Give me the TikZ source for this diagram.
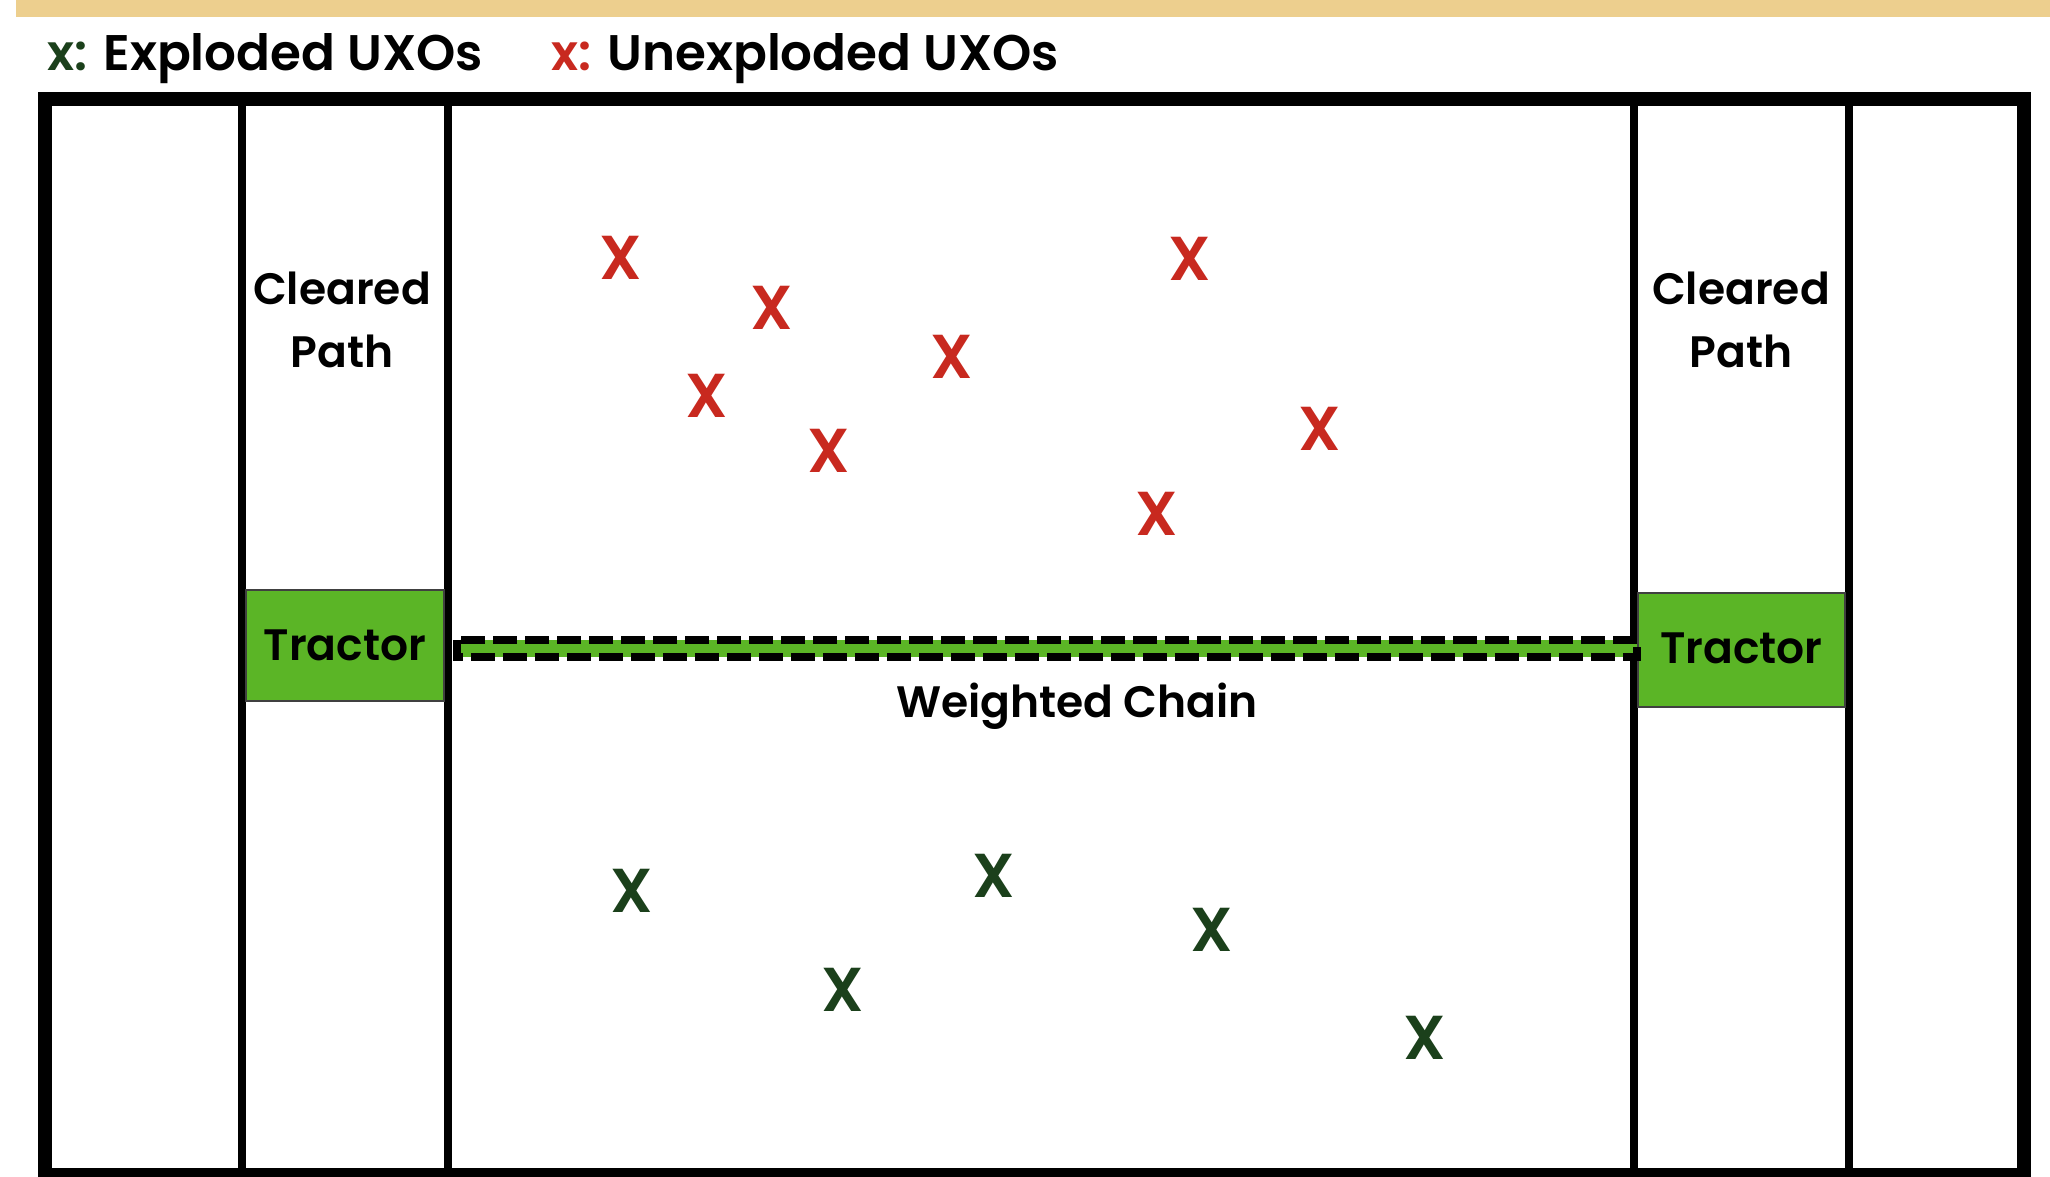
\documentclass[tikz,border=0pt]{standalone}
\usepackage{fontspec}
\setmainfont{Poppins}[BoldFont={Poppins SemiBold}]
\usetikzlibrary{calc}
\definecolor{uxored}{HTML}{C8291F}
\definecolor{uxogreen}{HTML}{1B401B}
\definecolor{tractorgreen}{HTML}{5BB526}
\definecolor{bandgold}{HTML}{EDCF8E}
\tikzset{
  uxo/.style={inner sep=0pt, font=\fontsize{31}{31}\selectfont\bfseries},
  tractorbox/.style={draw=black!75, line width=0.6pt, fill=tractorgreen, inner sep=0pt,
    font=\fontsize{22}{26}\selectfont\bfseries},
  clearlbl/.style={align=center, inner sep=0pt, font=\fontsize{22}{31.5}\selectfont\bfseries},
  legendlbl/.style={anchor=base west, inner sep=0pt, font=\fontsize{25}{28}\selectfont\bfseries},
  divider/.style={line width=4pt},
  chainline/.style={draw=black, fill=tractorgreen, line width=4pt, dash pattern=on 12pt off 4pt},
}

\begin{document}
\begin{tikzpicture}[x=0.5pt,y=-0.5pt]
    \useasboundingbox (0,0) rectangle (2050,1177);
    \clip (0,0) rectangle (2050,1177);
    % Draw the band at the top
    \fill[bandgold] (16,0) rectangle (2050,17);
    % Draw the legend
    \node[legendlbl] (legex) at (47,71) {\textcolor{uxogreen}{x:} Exploded UXOs};
    \node[legendlbl] (legun) at (551,71) {\textcolor{uxored}{x:} Unexploded UXOs};
    % Draw the field and the cleared paths
    \draw[line width=7pt] (45,99) rectangle (2024,1175);
    \foreach \x in {242,448,1634,1849}{
      \draw[divider] (\x,99) -- (\x,1175);
    }
    \node[clearlbl] (clrL) at (342,320) {Cleared\\Path};
    \node[clearlbl] (clrR) at (1741,320) {Cleared\\Path};
    % Draw the tractors and the chain between them
    \node[tractorbox, minimum width=99pt, minimum height=55.5pt] (trL) at (345,645.5) {Tractor};
    \node[tractorbox, minimum width=103.5pt, minimum height=57pt] (trR) at (1741.5,650) {\raisebox{2pt}{Tractor}};
    \draw[chainline] ($(trL.east)+(12,-6)$) rectangle ($(trR.west)+(0,7)$);
    \node[anchor=base, inner sep=0pt, font=\fontsize{22}{26}\selectfont\bfseries] (chainlbl) at (1077,717) {Weighted Chain};
    % Draw the unexploded UXOs
    \foreach \x/\y [count=\i] in {621/258, 772/308, 707/396, 829/451, 952/357, 1190/259, 1320/429, 1157/514}{
      \node[uxo, text=uxored] (red\i) at (\x,\y) {X};
    }
    % Draw the exploded UXOs
    \foreach \x/\y [count=\i] in {632/891, 994/876, 843/990, 1212/930, 1425/1038}{
      \node[uxo, text=uxogreen] (grn\i) at (\x,\y) {X};
    }
\end{tikzpicture}
\end{document}
